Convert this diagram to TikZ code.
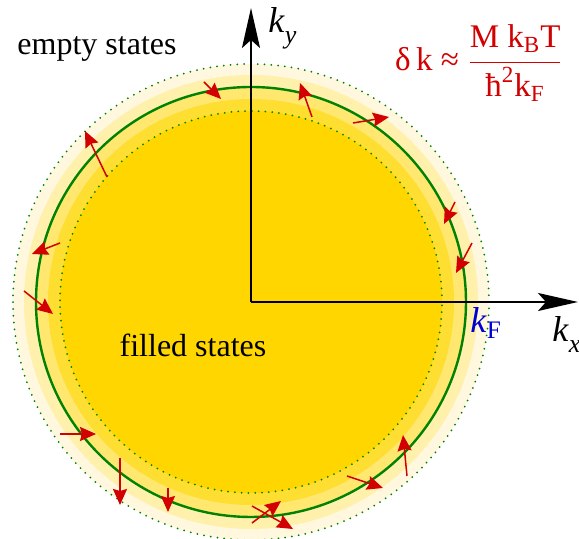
\documentclass[tikz,border=0pt]{standalone}
\usepackage{amsmath}
\usepackage{fontspec}
\setmainfont{Liberation Serif}
\usetikzlibrary{
    arrows.meta,
    backgrounds
}
\definecolor{ink}{RGB}{0,0,0}
\definecolor{fermigreen}{RGB}{0,130,0}
\definecolor{kickred}{RGB}{210,0,0}
\definecolor{kfblue}{RGB}{0,0,210}
\definecolor{shell1}{RGB}{255,248,222}
\definecolor{shell2}{RGB}{255,241,172}
\definecolor{shell3}{RGB}{255,231,112}
\definecolor{shell4}{RGB}{255,222,50}
\definecolor{sea}{RGB}{255,214,0}
\newcommand{\lowsub}[1]{\raisebox{-0.3em}{\fontsize{13}{13}\selectfont #1}}
\tikzset{
    axis/.style={
        -{Stealth[length=20pt, width=9pt, inset=4pt]},
        draw=ink,
        line width=1pt
    },
    fermi/.style={
        draw=fermigreen,
        line width=1.2pt
    },
    smear/.style={
        draw=fermigreen,
        line width=1pt,
        line cap=round,
        dash pattern=on 0pt off 3.4pt
    },
    jump/.style={
        -{Stealth[length=8pt, width=7pt, inset=1pt]},
        draw=kickred,
        line width=0.75pt
    },
    statelabel/.style={
        font=\fontsize{16}{19}\selectfont,
        text=ink,
        anchor=base
    },
    axislabel/.style={
        font=\fontsize{18}{21}\selectfont,
        text=ink,
        anchor=base west,
        inner sep=0pt
    },
    formula/.style={
        font=\fontsize{16.5}{19}\selectfont,
        text=kickred,
        inner sep=0pt
    }
}

\begin{document}
\begin{tikzpicture}[x=0.5pt, y=0.5pt]
\useasboundingbox (-251,-237) rectangle (328,302);

% Thermal shell round the Fermi circle
\foreach \r/\c in {238/shell1, 227/shell2, 215/shell3, 203/shell4, 191/sea} {
    \fill[\c] (0,0) circle (\r);
}
\draw[smear] (0,0) circle (238);
\draw[smear] (0,0) circle (191);
\draw[fermi] (0,0) circle (215);

% Axes
\coordinate (O) at (0,0);
\coordinate (ytip) at (0,294);
\coordinate (xtip) at (327,0);
\draw[axis] (O) -- (ytip);
\draw[axis] (O) -- (xtip);
\node[axislabel] (ky) at (17,269) {\textit{k}\lowsub{\textit{y}}};
\node[axislabel] (kx) at (301,-40) {\textit{k}\lowsub{\textit{x}}};
\node[axislabel, text=kfblue] (kf) at (219,-31) {\textit{k}\textsubscript{F}};

% Scattering events near the surface
\foreach \tx/\ty/\hx/\hy in {
    -47/220/-30/203, -144/125/-166/171, -191/59/-219/48,
    61/185/49/219, 102/179/138/185, 204/100/193/78,
    221/59/205/29, -227/11/-198/-12, -191/-132/-155/-132,
    -131/-156/-131/-203, -83/-186/-83/-210, 1/-204/42/-227,
    1/-221/30/-199, 156/-174/152/-133, 96/-174/132/-186} {
    \draw[jump] (\tx,\ty) -- (\hx,\hy);
}

% Labels
\node[statelabel] (empty) at (-154,247) {empty states};
\node[statelabel] (filled) at (-58,-55) {filled states};
\node[formula] (dk) at (228,239)
    {δ\,k ≈ $\dfrac{\text{M k}_{\text{B}}\text{T}}{\text{ħ}^{\text{2}}\text{k}_{\text{F}}}$};
\end{tikzpicture}
\end{document}
